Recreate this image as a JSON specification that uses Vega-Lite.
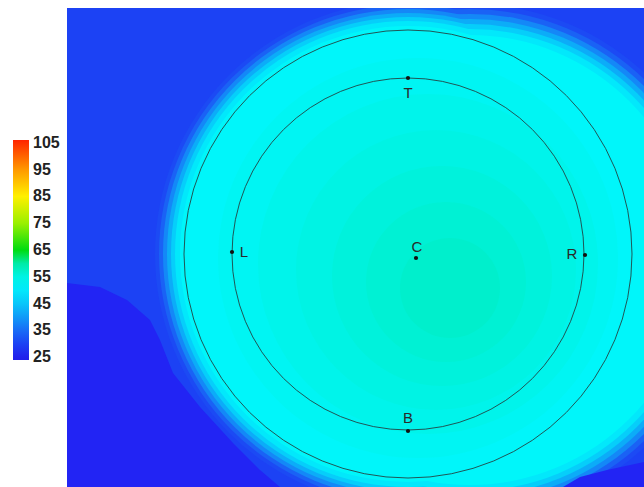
{
  "$schema": "https://vega.github.io/schema/vega-lite/v6.json",
  "width": 577,
  "height": 479,
  "autosize": {"type": "none"},
  "padding": {"left": 67, "top": 8, "right": 0, "bottom": 0},
  "background": "white",
  "config": {
    "view": {"stroke": null, "fill": "#1c42f4"},
    "legend": {"padding": 0}
  },
  "datasets": {
    "lowLeft": [
      {"x": -341, "y": -29, "t": 27},
      {"x": -308, "y": -33, "t": 27},
      {"x": -281, "y": -46, "t": 27},
      {"x": -258, "y": -66, "t": 27},
      {"x": -248, "y": -86, "t": 27},
      {"x": -235, "y": -119, "t": 27},
      {"x": -208, "y": -153, "t": 27},
      {"x": -175, "y": -189, "t": 27},
      {"x": -148, "y": -216, "t": 27},
      {"x": -128, "y": -233, "t": 27}
    ],
    "lowRight": [
      {"x": 155, "y": -233, "t": 27},
      {"x": 172, "y": -223, "t": 27},
      {"x": 199, "y": -216, "t": 27},
      {"x": 236, "y": -208, "t": 27}
    ],
    "discs": [
      {"x": 0, "y": 0, "d": 506, "t": 31},
      {"x": 62, "y": -6, "d": 512, "t": 31},
      {"x": 0, "y": 0, "d": 498, "t": 34},
      {"x": 62, "y": -6, "d": 502, "t": 34},
      {"x": 0, "y": 0, "d": 490, "t": 38},
      {"x": 62, "y": -6, "d": 492, "t": 38},
      {"x": 0, "y": 0, "d": 482, "t": 42},
      {"x": 62, "y": -6, "d": 482, "t": 42},
      {"x": 0, "y": 0, "d": 474, "t": 46},
      {"x": 62, "y": -6, "d": 472, "t": 46},
      {"x": 0, "y": 0, "d": 466, "t": 50},
      {"x": 62, "y": -6, "d": 462, "t": 50},
      {"x": 0, "y": 0, "d": 456, "t": 52},
      {"x": 62, "y": -6, "d": 450, "t": 52},
      {"x": 10, "y": -4, "d": 400, "t": 53},
      {"x": 20, "y": -10, "d": 340, "t": 54},
      {"x": 28, "y": -16, "d": 280, "t": 55},
      {"x": 34, "y": -22, "d": 220, "t": 56},
      {"x": 38, "y": -28, "d": 160, "t": 57},
      {"x": 42, "y": -34, "d": 100, "t": 58}
    ],
    "rings": [
      {"ring": "outer", "x": 0, "y": 0, "d": 448},
      {"ring": "inner", "x": 0, "y": 0, "d": 352}
    ],
    "probes": [
      {"name": "T", "x": 0, "y": 176, "lx": 0, "ly": 161},
      {"name": "L", "x": -176, "y": 2, "lx": -164, "ly": 2},
      {"name": "C", "x": 8, "y": -4, "lx": 9, "ly": 7},
      {"name": "R", "x": 177, "y": -1, "lx": 164, "ly": 0},
      {"name": "B", "x": 0, "y": -177, "lx": 0, "ly": -164}
    ]
  },
  "layer": [
    {
      "data": {"name": "lowLeft"},
      "mark": {"type": "area", "clip": true, "opacity": 1},
      "encoding": {
        "x": {"field": "x", "type": "quantitative", "scale": {"domain": [-341, 236], "nice": false, "zero": false}, "axis": null},
        "y": {"field": "y", "type": "quantitative", "scale": {"domain": [-233, 246], "nice": false, "zero": false}, "axis": null},
        "y2": {"datum": -233},
        "color": {
          "field": "t",
          "type": "quantitative",
          "scale": {
            "type": "linear",
            "domain": [24, 27, 30, 34, 38, 42, 46, 50, 52, 56, 59, 65, 75, 85, 95, 106],
            "range": ["#2020e8", "#2224f4", "#1c42f4", "#1a62f5", "#1488f7", "#0cacf8", "#06cefa", "#02e8fb", "#00f6fa", "#00f2dc", "#00eec4", "#00dc10", "#9af000", "#fff000", "#ff9800", "#ff2400"],
            "interpolate": "rgb"
          },
          "legend": {
            "orient": "none",
            "legendX": -54,
            "legendY": 132,
            "direction": "vertical",
            "title": null,
            "gradientLength": 220,
            "gradientThickness": 16,
            "gradientStrokeWidth": 0,
            "values": [25, 35, 45, 55, 65, 75, 85, 95, 105],
            "labelFont": "Liberation Sans",
            "labelFontSize": 16,
            "labelFontWeight": "bold",
            "labelColor": "#222222",
            "labelBaseline": "middle",
            "labelOffset": 4
          }
        }
      }
    },
    {
      "data": {"name": "discs"},
      "mark": {"type": "point", "shape": "circle", "filled": true, "opacity": 1, "strokeWidth": 0, "clip": true},
      "encoding": {
        "x": {"field": "x", "type": "quantitative", "axis": null},
        "y": {"field": "y", "type": "quantitative", "axis": null},
        "size": {"field": "d", "type": "quantitative", "scale": {"type": "pow", "exponent": 2, "domain": [0, 1000], "range": [0, 1000000]}, "legend": null},
        "color": {"field": "t", "type": "quantitative"},
        "order": {"field": "t", "type": "quantitative"}
      }
    },
    {
      "data": {"name": "lowRight"},
      "mark": {"type": "area", "clip": true, "opacity": 1},
      "encoding": {
        "x": {"field": "x", "type": "quantitative", "axis": null},
        "y": {"field": "y", "type": "quantitative", "axis": null},
        "y2": {"datum": -233},
        "color": {"field": "t", "type": "quantitative"}
      }
    },
    {
      "data": {"name": "rings"},
      "mark": {"type": "point", "shape": "circle", "filled": false, "opacity": 1, "stroke": "#224444", "strokeWidth": 0.9, "clip": true},
      "encoding": {
        "x": {"field": "x", "type": "quantitative", "axis": null},
        "y": {"field": "y", "type": "quantitative", "axis": null},
        "size": {"field": "d", "type": "quantitative", "legend": null}
      }
    },
    {
      "data": {"name": "probes"},
      "mark": {"type": "point", "shape": "circle", "filled": true, "opacity": 1, "color": "#111111", "size": 18},
      "encoding": {
        "x": {"field": "x", "type": "quantitative", "axis": null},
        "y": {"field": "y", "type": "quantitative", "axis": null}
      }
    },
    {
      "data": {"name": "probes"},
      "mark": {"type": "text", "font": "Liberation Sans", "fontSize": 15, "color": "#2a2a2a", "align": "center", "baseline": "middle"},
      "encoding": {
        "x": {"field": "lx", "type": "quantitative", "axis": null},
        "y": {"field": "ly", "type": "quantitative", "axis": null},
        "text": {"field": "name", "type": "nominal"}
      }
    }
  ]
}
